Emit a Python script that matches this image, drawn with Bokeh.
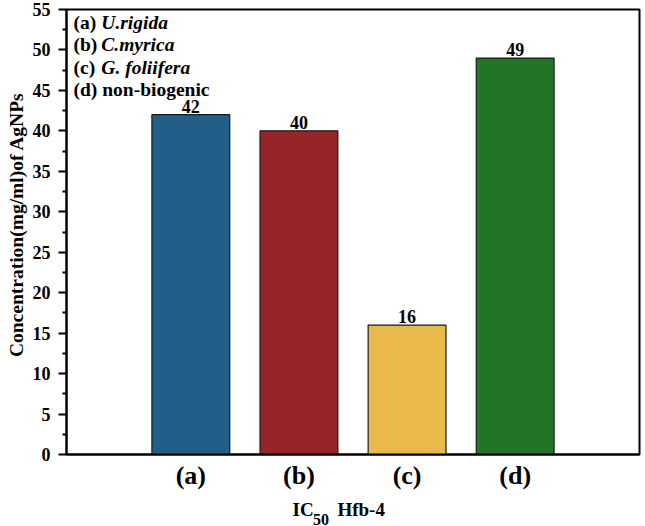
from bokeh.plotting import figure
from bokeh.models import Range1d, FixedTicker, Label, ColumnDataSource, LinearAxis
from bokeh.embed import file_html
from bokeh.resources import INLINE
from bokeh.core.properties import value

# ---- data ----
categories = ["(a)", "(b)", "(c)", "(d)"]
concentrations = [42, 40, 16, 49]
bar_colors = ["#225f88", "#972427", "#e9b94b", "#237526"]
legend_prefix = ["(a)", "(b)", "(c)", "(d) non-biogenic"]
legend_species = ["U.rigida", "C.myrica", "G. foliifera", ""]
y_ticks = list(range(0, 56, 5))
x_label_main = "IC"
x_label_sub = "50"
x_label_rest = "Hfb-4"
y_label = "Concentration(mg/ml)of AgNPs"

FONT = "Liberation Serif"
NB = "\u00a0"

xs = list(range(1, len(categories) + 1))
src = ColumnDataSource(dict(x=xs, top=concentrations, color=bar_colors,
                            lab=[str(v) for v in concentrations]))

p = figure(frame_width=573, frame_height=445, output_backend="svg",
           toolbar_location=None, x_range=Range1d(-0.15, 5.15),
           y_range=Range1d(0, 55),
           min_border_left=66, min_border_right=5, min_border_top=9,
           min_border_bottom=20)

p.xgrid.visible = False
p.ygrid.visible = False
p.outline_line_color = "black"
p.outline_line_width = 2
p.background_fill_color = "white"
p.border_fill_color = "white"

p.vbar(x="x", top="top", width=0.72, bottom=0, fill_color="color",
       line_color="#1a1a1a", line_width=1.2, source=src)

p.text(x="x", y="top", text="lab", source=src, text_align="center",
       text_baseline="bottom", y_offset=-2, text_font=value(FONT),
       text_font_style="bold", text_font_size="18px", text_color="black")

# y axis
ya = p.yaxis[0]
ya.ticker = FixedTicker(ticks=y_ticks, minor_ticks=[v + 2.5 for v in y_ticks[:-1]])
ya.axis_line_width = 2
ya.major_tick_line_width = 2
ya.minor_tick_line_width = 2
ya.major_tick_out = 8
ya.major_tick_in = 0
ya.minor_tick_out = 4
ya.minor_tick_in = 0
ya.major_label_text_font = FONT
ya.major_label_text_font_style = "bold"
ya.major_label_text_font_size = "18px"
ya.major_label_text_color = "black"
ya.major_label_standoff = 8
ya.axis_label = NB * 3 + y_label
ya.axis_label_text_font = FONT
ya.axis_label_text_font_style = "bold"
ya.axis_label_text_font_size = "19.5px"
ya.axis_label_text_color = "black"
ya.axis_label_standoff = 3

# x axis
xa = p.xaxis[0]
xa.ticker = FixedTicker(ticks=xs, minor_ticks=[])
xa.major_label_overrides = {x: c for x, c in zip(xs, categories)}
xa.axis_line_width = 2
xa.major_tick_line_color = None
xa.minor_tick_line_color = None
xa.major_tick_out = 0
xa.major_tick_in = 0
xa.major_label_text_font = FONT
xa.major_label_text_font_style = "bold"
xa.major_label_text_font_size = "26px"
xa.major_label_text_color = "black"
xa.major_label_standoff = 6
# main part of the x title: "IC" [gap for subscript] "Hfb-4", padded to shift left
xa.axis_label = x_label_main + NB * 5 + x_label_rest + NB * 6
xa.axis_label_text_font = FONT
xa.axis_label_text_font_style = "bold"
xa.axis_label_text_font_size = "19px"
xa.axis_label_text_color = "black"
xa.axis_label_standoff = 6

# subscript "50" carried by a bare extra axis, pulled up under the title
sub_axis = LinearAxis(ticker=FixedTicker(ticks=[], minor_ticks=[]),
                      axis_line_color=None, major_tick_line_color=None,
                      minor_tick_line_color=None,
                      major_tick_out=0, major_tick_in=0,
                      minor_tick_out=0, minor_tick_in=0,
                      major_label_standoff=0,
                      axis_label=x_label_sub + NB * 16,
                      axis_label_text_font=FONT,
                      axis_label_text_font_style="bold",
                      axis_label_text_font_size="16px",
                      axis_label_text_color="black",
                      axis_label_standoff=-12)
p.add_layout(sub_axis, "below")

# legend-like text box
rows_y = [53.4, 50.7, 47.8, 45.1]
for pre, sp, yy in zip(legend_prefix, legend_species, rows_y):
    p.add_layout(Label(x=-0.085, y=yy, text=pre, text_font=FONT,
                       text_font_style="bold", text_font_size="19.5px",
                       text_color="black", text_baseline="middle"))
    if sp:
        p.add_layout(Label(x=0.172, y=yy, text=sp, text_font=FONT,
                           text_font_style="bold italic", text_font_size="19.5px",
                           text_color="black", text_baseline="middle"))

open("out.html", "w").write(file_html(p, INLINE))
